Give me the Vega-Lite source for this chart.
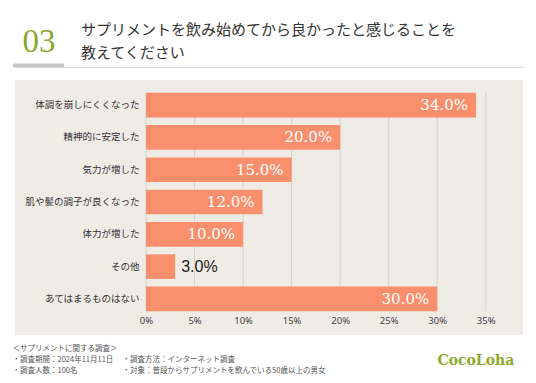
{
  "$schema": "https://vega.github.io/schema/vega-lite/v6.json",
  "width": 508,
  "height": 255,
  "autosize": {"type": "none"},
  "padding": {"left": 15, "top": 80, "right": 13, "bottom": 48},
  "background": "#ffffff",
  "config": {
    "view": {"fill": "#efebe5", "stroke": null},
    "font": "Noto Sans CJK JP"
  },
  "title": {
    "text": ["サプリメントを飲み始めてから良かったと感じることを", "教えてください"],
    "anchor": "start",
    "frame": "group",
    "orient": "top",
    "dx": 66,
    "dy": 62,
    "offset": 26,
    "font": "Noto Sans CJK JP",
    "fontSize": 15,
    "fontWeight": "normal",
    "color": "#333333",
    "lineHeight": 23
  },
  "data": {
    "values": [
      {"item": "体調を崩しにくくなった", "value": 0.34},
      {"item": "精神的に安定した", "value": 0.20},
      {"item": "気力が増した", "value": 0.15},
      {"item": "肌や髪の調子が良くなった", "value": 0.12},
      {"item": "体力が増した", "value": 0.10},
      {"item": "その他", "value": 0.03},
      {"item": "あてはまるものはない", "value": 0.30}
    ]
  },
  "resolve": {"axis": {"x": "independent", "y": "independent"}},
  "layer": [
    {
      "data": {"values": [{"t": 0}, {"t": 0.05}, {"t": 0.10}, {"t": 0.15}, {"t": 0.20}, {"t": 0.25}, {"t": 0.30}, {"t": 0.35}]},
      "mark": {"type": "rule", "color": "#d6d2cc", "strokeWidth": 1, "yOffset": -12.3, "y2Offset": 12.3},
      "encoding": {
        "x": {
          "field": "t", "type": "quantitative",
          "scale": {"domain": [-0.135, 0.3884], "nice": false, "zero": false},
          "axis": {
            "orient": "top", "offset": 13, "labels": false, "grid": false,
            "domain": true, "domainColor": "#d9d9d9", "domainWidth": 1,
            "ticks": true, "values": [-0.1118], "tickSize": 4, "tickWidth": 51, "tickColor": "#c6c6c6", "tickCap": "butt",
            "title": "CocoLoha",
            "titleX": 422, "titleY": 297, "titleAlign": "left", "titleBaseline": "alphabetic", "titleAngle": 0,
            "titleFont": "DejaVu Serif", "titleFontSize": 14, "titleFontWeight": "bold", "titleColor": "#8cab2a"
          }
        },
        "y": {"datum": "体調を崩しにくくなった", "type": "nominal", "axis": null},
        "y2": {"datum": "あてはまるものはない"}
      }
    },
    {
      "mark": {"type": "bar", "color": "#f98f6d"},
      "encoding": {
        "x": {
          "field": "value", "type": "quantitative",
          "axis": {
            "orient": "bottom", "offset": -22, "values": [0, 0.05, 0.10, 0.15, 0.20, 0.25, 0.30, 0.35],
            "format": ".0%", "grid": false, "domain": false, "ticks": false, "tickSize": 0, "labelPadding": 2,
            "labelFont": "Noto Sans", "labelFontSize": 9.5, "labelColor": "#444444",
            "title": ["＜サプリメントに関する調査＞", "・調査期間：2024年11月11日", "・調査人数：100名"],
            "titleX": -3, "titleY": 31, "titleAlign": "left", "titleBaseline": "top", "titleAnchor": "start",
            "titleFont": "Noto Sans CJK JP", "titleFontSize": 7.5, "titleFontWeight": "normal", "titleColor": "#555555",
            "titleLineHeight": 11.3
          }
        },
        "y": {
          "field": "item", "type": "nominal", "sort": null,
          "scale": {
            "domain": ["体調を崩しにくくなった", "精神的に安定した", "気力が増した", "肌や髪の調子が良くなった", "体力が増した", "その他", "あてはまるものはない"],
            "paddingInner": 0.238, "paddingOuter": 0.566, "align": 0.35
          },
          "axis": {
            "orient": "left", "offset": -128, "domain": false, "ticks": false, "tickSize": 0, "labelPadding": 4,
            "labelFont": "Noto Sans CJK JP", "labelFontSize": 9.5, "labelColor": "#333333",
            "title": "03", "titleX": -121, "titleY": -29, "titleAngle": 0, "titleAlign": "left", "titleBaseline": "alphabetic",
            "titleFont": "Liberation Serif", "titleFontSize": 33, "titleFontWeight": "normal", "titleColor": "#8aa630"
          }
        }
      }
    },
    {
      "transform": [{"filter": "datum.value >= 0.1"}],
      "mark": {"type": "text", "align": "right", "baseline": "middle", "dx": -8, "font": "DejaVu Serif", "fontSize": 15, "color": "#ffffff"},
      "encoding": {
        "x": {"field": "value", "type": "quantitative", "axis": null},
        "y": {
          "field": "item", "type": "nominal", "sort": null,
          "axis": {
            "orient": "right", "labels": false, "ticks": false, "domain": false, "grid": false,
            "title": ["・調査方法：インターネット調査", "・対象：普段からサプリメントを飲んでいる50歳以上の男女"],
            "titleX": -401, "titleY": 275, "titleAngle": 0, "titleAlign": "left", "titleBaseline": "top",
            "titleFont": "Noto Sans CJK JP", "titleFontSize": 7.5, "titleFontWeight": "normal", "titleColor": "#555555",
            "titleLineHeight": 11.3
          }
        },
        "text": {"field": "value", "type": "quantitative", "format": ".1%"}
      }
    },
    {
      "transform": [{"filter": "datum.value < 0.1"}],
      "mark": {"type": "text", "align": "left", "baseline": "middle", "dx": 6, "font": "Liberation Sans", "fontSize": 16, "color": "#222222"},
      "encoding": {
        "x": {"field": "value", "type": "quantitative", "axis": null},
        "y": {"field": "item", "type": "nominal", "sort": null, "axis": null},
        "text": {"field": "value", "type": "quantitative", "format": ".1%"}
      }
    }
  ]
}
